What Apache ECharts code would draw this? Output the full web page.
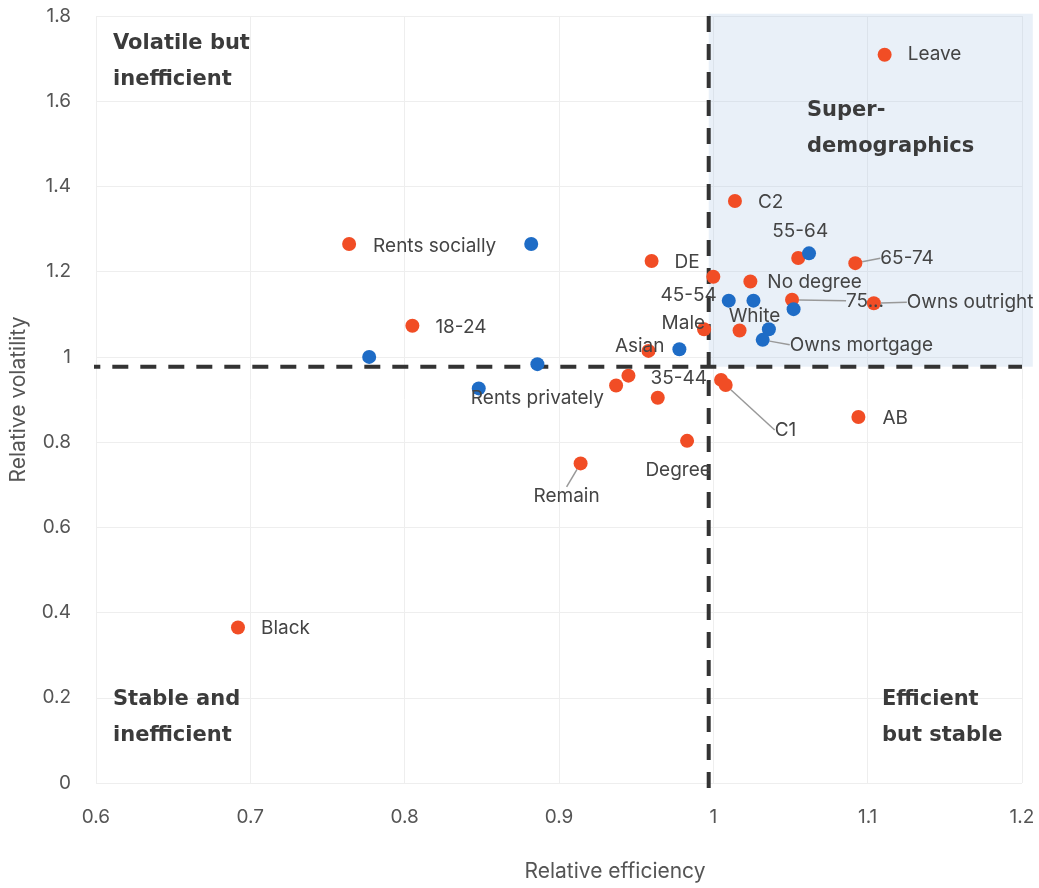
<!DOCTYPE html>
<html><head><meta charset="utf-8">
<script src="https://cdn.jsdelivr.net/npm/echarts@6/dist/echarts.min.js"></script>
<style>html,body{margin:0;padding:0;background:#fff}#c{width:1039px;height:888px}</style>
</head><body><div id="c"></div>
<script>
// ---- data ----
const orangeNames = ['Leave','C2','55-64','65-74','DE','Rents socially','18-24','','No degree','75+','Owns outright','Male','','Asian','','','','35-44','C1','AB','Degree','Remain','Black'];
const orangeX = [1.111,1.014,1.055,1.092,0.960,0.764,0.805,1.000,1.024,1.051,1.104,0.994,1.017,0.958,0.945,0.937,0.964,1.005,1.008,1.094,0.983,0.914,0.692];
const orangeY = [1.709,1.366,1.232,1.220,1.225,1.265,1.073,1.188,1.177,1.134,1.126,1.065,1.062,1.014,0.956,0.933,0.904,0.946,0.934,0.859,0.803,0.750,0.365];
const blueNames = ['','','Rents privately','','','','45-54','White','','','Owns mortgage'];
const blueX = [0.882,0.777,0.886,0.848,0.978,1.062,1.010,1.026,1.052,1.036,1.032];
const blueY = [1.265,1.000,0.983,0.926,1.018,1.243,1.132,1.132,1.112,1.065,1.040];
const xLimits = [0.6, 1.2];
const yLimits = [0, 1.8];
const efficiencyThreshold = 0.997;
const volatilityThreshold = 0.977;
const quadrantTexts = ['Volatile but\ninefficient','Super-\ndemographics','Stable and\ninefficient','Efficient\nbut stable'];
const labelDisplay = {'75+':'75...'};

// ---- layout / style ----
const FONT = 'Inter';
const BOLDFONT = 'bold 21px "DejaVu Sans"';
const ORANGE = '#F14D25';
const BLUE = '#1E6CC6';
const labelPlacement = {
  'Leave':{dx:23,dy:0,align:'left'},
  'C2':{dx:23,dy:1,align:'left'},
  '55-64':{dx:2,dy:-27,align:'center'},
  '65-74':{dx:25,dy:-5,align:'left',line:true},
  'DE':{dx:23,dy:1,align:'left'},
  'Rents socially':{dx:24,dy:2,align:'left'},
  '18-24':{dx:23,dy:1,align:'left'},
  'No degree':{dx:17,dy:1,align:'left'},
  '75+':{dx:54,dy:1,align:'left',line:true},
  'Owns outright':{dx:33,dy:-1,align:'left',line:true},
  'Male':{dx:1,dy:-6,align:'right'},
  'Asian':{dx:16,dy:-5,align:'right'},
  '35-44':{dx:-14,dy:-2,align:'right'},
  'C1':{dx:49,dy:45,align:'left',line:true},
  'AB':{dx:24,dy:1,align:'left'},
  'Degree':{dx:-9,dy:29,align:'center'},
  'Remain':{dx:-14,dy:33,align:'center',line:true},
  'Black':{dx:23,dy:1,align:'left'},
  'Rents privately':{dx:0,dy:34,align:'center'},
  '45-54':{dx:-12,dy:-5,align:'right'},
  'White':{dx:1,dy:16,align:'center'},
  'Owns mortgage':{dx:27,dy:5,align:'left',line:true}
};

function buildData(names, xs, ys) {
  return names.map((n, i) => {
    const lp = n ? labelPlacement[n] : null;
    return {
      name: n, value: [xs[i], ys[i]],
      label: {show: !!lp},
      labelLine: {show: !!(lp && lp.line)}
    };
  });
}
const seriesNames = ['orange', 'blue'];
const allNames = [orangeNames, blueNames];

function layoutFn(params) {
  const idx = params.seriesIndex - 3;
  if (idx < 0 || idx > 1) return;
  const n = allNames[idx][params.dataIndex];
  const lp = labelPlacement[n];
  if (!lp) return;
  const r = params.rect;
  const cx = r.x + r.width / 2, cy = r.y + r.height / 2;
  return {x: cx + lp.dx, y: cy + lp.dy, align: lp.align, verticalAlign: 'middle'};
}

function scatterSeries(name, data, color) {
  return {
    type: 'scatter', name: name, data: data, symbolSize: 14, z: 5,
    itemStyle: {color: color, opacity: 1},
    label: {show: false, position: 'inside', fontFamily: FONT, fontSize: 19, color: '#444',
      formatter: p => labelDisplay[p.name] || p.name},
    labelLine: {show: false, lineStyle: {color: '#999', width: 1.5}},
    labelLayout: layoutFn,
    emphasis: {disabled: true}
  };
}

const chart = echarts.init(document.getElementById('c'), null, {renderer: 'canvas'});
chart.setOption({
  backgroundColor: '#fff',
  animation: false,
  grid: {left: 96, right: 17, top: 16, bottom: 105},
  xAxis: {
    type: 'value', min: xLimits[0], max: xLimits[1], interval: 0.1,
    name: 'Relative efficiency', nameLocation: 'middle', nameGap: 78,
    nameTextStyle: {fontFamily: FONT, fontSize: 21, color: '#555', padding: [0, 0, 0, 112]},
    axisLine: {show: false}, axisTick: {show: false},
    axisLabel: {fontFamily: FONT, fontSize: 19, color: '#555', margin: 25},
    splitLine: {lineStyle: {color: '#eeeeee', width: 1}}
  },
  yAxis: {
    type: 'value', min: yLimits[0], max: yLimits[1], interval: 0.2,
    name: 'Relative volatility', nameLocation: 'middle', nameGap: 67,
    nameTextStyle: {fontFamily: FONT, fontSize: 21, color: '#555'},
    axisLine: {show: false}, axisTick: {show: false},
    axisLabel: {fontFamily: FONT, fontSize: 19, color: '#555', margin: 25},
    splitLine: {lineStyle: {color: '#eeeeee', width: 1}}
  },
  graphic: [
    {type: 'text', left: 113, top: 26, z: 10, style: {text: quadrantTexts[0], font: BOLDFONT, fill: '#3b3b3b', lineHeight: 36}},
    {type: 'text', left: 807, top: 93, z: 10, style: {text: quadrantTexts[1], font: BOLDFONT, fill: '#3b3b3b', lineHeight: 36}},
    {type: 'text', left: 113, top: 682, z: 10, style: {text: quadrantTexts[2], font: BOLDFONT, fill: '#3b3b3b', lineHeight: 36}},
    {type: 'text', left: 882, top: 682, z: 10, style: {text: quadrantTexts[3], font: BOLDFONT, fill: '#3b3b3b', lineHeight: 36}}
  ],
  series: [
    {
      type: 'custom', silent: true, clip: false, z: 0,
      encode: {x: [0, 2], y: [1, 3]},
      data: [[efficiencyThreshold, volatilityThreshold, 1.207, 1.805]],
      renderItem: (params, api) => {
        const p0 = api.coord([api.value(0), api.value(1)]);
        const p1 = api.coord([api.value(2), api.value(3)]);
        return {type: 'rect', shape: {x: p0[0], y: p1[1], width: p1[0] - p0[0], height: p0[1] - p1[1]},
          style: {fill: 'rgba(175,198,230,0.27)'}};
      }
    },
    {
      type: 'line', silent: true, clip: false, z: 2, symbol: 'none',
      data: [[0.538, volatilityThreshold], [xLimits[1], volatilityThreshold]],
      lineStyle: {color: '#333', width: 4, type: [16, 12]}
    },
    {
      type: 'line', silent: true, clip: false, z: 2, symbol: 'none',
      data: [[efficiencyThreshold, yLimits[1]], [efficiencyThreshold, -0.015]],
      lineStyle: {color: '#333', width: 4, type: [16, 12]}
    },
    scatterSeries(seriesNames[0], buildData(orangeNames, orangeX, orangeY), ORANGE),
    scatterSeries(seriesNames[1], buildData(blueNames, blueX, blueY), BLUE)
  ]
});
</script></body></html>
